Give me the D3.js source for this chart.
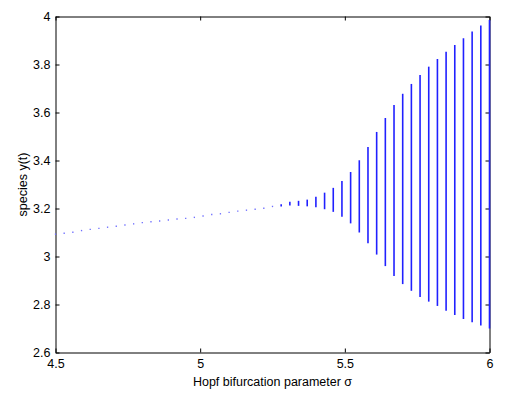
<!DOCTYPE html>
<html>
<head>
<meta charset="utf-8">
<script src="https://cdn.jsdelivr.net/npm/d3@7"></script>
<style>
  html, body { margin: 0; padding: 0; background: #fff; }
  svg { display: block; }
  text { font-family: "Liberation Sans", Arial, Helvetica, sans-serif; }
</style>
</head>
<body>
<svg id="chart" width="512" height="396"></svg>
<script>
// ---- data ----
const sigma = [4.50, 4.53, 4.56, 4.59, 4.62, 4.65, 4.68, 4.71, 4.74, 4.77,
               4.80, 4.83, 4.86, 4.89, 4.92, 4.95, 4.98, 5.01, 5.04, 5.07,
               5.10, 5.13, 5.16, 5.19, 5.22, 5.25, 5.28, 5.31, 5.34, 5.37,
               5.40, 5.43, 5.46, 5.49, 5.52, 5.55, 5.58, 5.61, 5.64, 5.67,
               5.70, 5.73, 5.76, 5.79, 5.82, 5.85, 5.88, 5.91, 5.94, 5.97, 6.00];
const yMin = [3.093, 3.097, 3.101, 3.108, 3.113, 3.117, 3.122, 3.126, 3.131, 3.136,
              3.141, 3.145, 3.148, 3.152, 3.156, 3.159, 3.163, 3.169, 3.175, 3.178,
              3.184, 3.189, 3.193, 3.197, 3.201, 3.206, 3.208, 3.212, 3.211, 3.209,
              3.205, 3.197, 3.186, 3.166, 3.138, 3.100, 3.055, 3.008, 2.960, 2.919,
              2.885, 2.857, 2.831, 2.812, 2.794, 2.774, 2.756, 2.740, 2.726, 2.712, 2.700];
const yMax = [3.093, 3.097, 3.101, 3.108, 3.113, 3.117, 3.122, 3.126, 3.131, 3.136,
              3.141, 3.145, 3.148, 3.152, 3.156, 3.159, 3.163, 3.169, 3.175, 3.178,
              3.184, 3.189, 3.193, 3.197, 3.201, 3.211, 3.218, 3.228, 3.232, 3.237,
              3.249, 3.266, 3.286, 3.315, 3.352, 3.401, 3.456, 3.519, 3.577, 3.631,
              3.678, 3.719, 3.756, 3.791, 3.823, 3.853, 3.881, 3.909, 3.937, 3.962, 3.985];
const xTicks = [4.5, 5, 5.5, 6];
const yTicks = [2.6, 2.8, 3, 3.2, 3.4, 3.6, 3.8, 4];
const xLabel = "Hopf bifurcation parameter \u03c3";
const yLabel = "species y(t)";

// ---- layout ----
const L = 55.5, R = 489.5, T = 16.5, B = 352.5;
const FS = 12.5;
const svg = d3.select("#chart");
const x = d3.scaleLinear().domain([4.5, 6]).range([L, R]);
const y = d3.scaleLinear().domain([2.6, 4]).range([B, T]);

const fmt = d => String(d);
const tk = 4;

function style(g) {
  g.selectAll("path.domain").attr("stroke", "#000").attr("stroke-width", 1);
  g.selectAll(".tick line").attr("stroke", "#000").attr("stroke-width", 1);
  g.selectAll("text").attr("font-size", FS).attr("fill", "#000")
    .style("font-family", "'Liberation Sans', Arial, sans-serif");
}

svg.append("g").attr("transform", `translate(0,${B})`)
  .call(d3.axisBottom(x).tickValues(xTicks).tickFormat(fmt).tickSizeInner(-tk).tickSizeOuter(0).tickPadding(4))
  .call(style)
  .selectAll("text").attr("dy", "0.75em").attr("y", 6);
svg.append("g").attr("transform", `translate(0,${T})`)
  .call(d3.axisTop(x).tickValues(xTicks).tickFormat("").tickSizeInner(-tk).tickSizeOuter(0))
  .call(style);
svg.append("g").attr("transform", `translate(${L},0)`)
  .call(d3.axisLeft(y).tickValues(yTicks).tickFormat(fmt).tickSizeInner(-tk).tickSizeOuter(0).tickPadding(5))
  .call(style);
svg.append("g").attr("transform", `translate(${R},0)`)
  .call(d3.axisRight(y).tickValues(yTicks).tickFormat("").tickSizeInner(-tk).tickSizeOuter(0))
  .call(style);

// ---- data marks ----
const data = sigma.map((s, i) => ({ s, lo: yMin[i], hi: yMax[i] }));
const isDot = d => (y(d.lo) - y(d.hi)) < 1.4;
svg.append("g").selectAll("line").data(data).join("line")
  .attr("x1", d => x(d.s)).attr("x2", d => x(d.s))
  .attr("y1", d => isDot(d) ? (y(d.hi) + y(d.lo)) / 2 - 0.7 : y(d.hi))
  .attr("y2", d => isDot(d) ? (y(d.hi) + y(d.lo)) / 2 + 0.7 : y(d.lo))
  .attr("stroke", d => isDot(d) ? "#6f6fff" : "#2020ff")
  .attr("stroke-width", d => isDot(d) ? 1.3 : 1.6);

// ---- labels ----
svg.append("text")
  .attr("x", (L + R) / 2).attr("y", 386)
  .attr("text-anchor", "middle").attr("font-size", FS).attr("fill", "#000")
  .text(xLabel);
svg.append("text")
  .attr("transform", `translate(27,${(T + B) / 2}) rotate(-90)`)
  .attr("text-anchor", "middle").attr("font-size", FS).attr("fill", "#000")
  .text(yLabel);
</script>
</body>
</html>
